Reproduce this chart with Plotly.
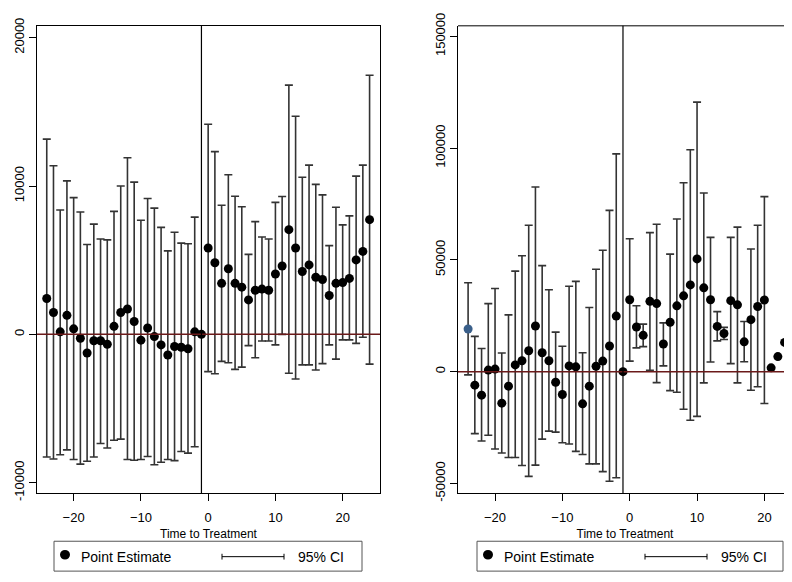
import plotly.graph_objects as go

# left panel
t_left = list(range(-24, 25))
est_left = [2420, 1470, 170, 1280, 370, -260, -1260, -430, -430, -670, 540, 1470, 1710, 870, -390, 430, -150, -710,
            -1390, -820, -870, -970, 170, 0,
            5820, 4830, 3440, 4420, 3440, 3180, 2320, 2970, 3050, 2970, 4070, 4610, 7060, 5820, 4240, 4680, 3850, 3700,
            2620, 3440, 3490, 3770, 5020, 5590, 7730]
hi_left = [13160, 11370, 8380, 10350, 9220, 8250, 6060, 7430, 6430, 6370, 8290, 10000, 11910, 10260, 7690, 9160, 8510,
           7210, 5630, 6880, 6150, 6110, 7900, None,
           14160, 12320, 8700, 10760, 9310, 8600, 5390, 7600, 6560, 6430, 8900, 9290, 16800, 14700, 10590, 11410, 10110,
           9400, 5980, 8570, 7380, 7990, 10670, 11410, 17470]
lo_left = [-8270, -8400, -8120, -7790, -8440, -8750, -8550, -8270, -7360, -7660, -7140, -7060, -8440, -8490, -8440, -8230,
           -8790, -8620, -8440, -8510, -7900, -8010, -7580, None,
           -2510, -2660, -1820, -1910, -2360, -2210, -760, -1580, -450, -450, -710, 0, -2620, -3010, -2060, -2060, -2400,
           -1970, -710, -1670, -370, -370, -610, -190, -2010]
ticks_left = [-10000, 0, 10000, 20000]

# right panel
t_right = list(range(-24, 25))
est_right = [19100, -6040, -10490, 720, 1150, -14080, -6470, 3020, 4890, 9340, 20410, 8480, 4890, -4740, -10200, 2590,
             2160, -14370, -6470, 2440, 4740, 11500, 24860, 0,
             32190, 19970, 16240, 31470, 30460, 12360, 22130, 29460, 33910, 38800, 50440, 37510, 32190, 20260, 17100,
             31760, 29890, 13360, 23280, 29170, 32050, 1720, 6750, 13080, 26440]
hi_right = [39800, 15800, 10350, 30460, 37200, 8330, 25430, 44980, 51880, 65530, 82630, 47420, 36640, 17670, 11350, 38220,
            40380, 8480, 28740, 45840, 54320, 72140, 97430, None,
            59490, 29460, 21270, 62220, 65960, 21840, 52590, 68260, 84500, 99300, 120560, 79900, 60070, 26870, 19830,
            60070, 64670, 22420, 54890, 65530, 78320, None, None, None, 56760]
lo_right = [-1440, -27700, -31000, -28450, -34600, -36360, -38370, -38370, -41960, -46850, -41820, -30180, -26580, -27020,
            -31760, -32330, -35640, -37070, -41240, -41240, -44690, -49000, -47420, None,
            4740, 10630, 11210, 570, -4890, 2590, -8480, -9200, -16810, -21700, -19970, -5030, 4310, 13800, 14370, 3590,
            -5030, 4450, -8330, -6750, -14230, None, None, None, -3880]
blue_right = [-24, 24]
ticks_right = [-50000, 0, 50000, 100000, 150000]
ticks_x = [-20, -10, 0, 10, 20]

FONT = "Liberation Sans, Arial, sans-serif"
W, H = 784, 574  # page body has an 8px margin


def px(v):
    return (v - 8) / W


def py(v):
    return 1 - (v - 8) / H


def ci_trace(t, est, hi, lo, xa, ya):
    xs, ys, up, dn = [], [], [], []
    for x, e, h, l in zip(t, est, hi, lo):
        if h is None:
            continue
        xs.append(x)
        ys.append(e)
        up.append(h - e)
        dn.append(e - l)
    return go.Scatter(x=xs, y=ys, mode="markers", marker=dict(size=0.1, color="rgba(0,0,0,0)"),
                      error_y=dict(type="data", array=up, arrayminus=dn, color="#333333", thickness=1.6, width=4),
                      xaxis=xa, yaxis=ya, showlegend=False, hoverinfo="skip", cliponaxis=False)


fig = go.Figure()
fig.add_trace(ci_trace(t_left, est_left, hi_left, lo_left, "x", "y"))
fig.add_trace(go.Scatter(x=t_left, y=est_left, mode="markers", marker=dict(size=9, color="black"),
                         xaxis="x", yaxis="y", showlegend=False))
fig.add_trace(ci_trace(t_right, est_right, hi_right, lo_right, "x2", "y2"))
cols = ["#3a5f8a" if t in blue_right else "black" for t in t_right]
fig.add_trace(go.Scatter(x=t_right, y=est_right, mode="markers", marker=dict(size=9, color=cols),
                         xaxis="x2", yaxis="y2", showlegend=False, cliponaxis=False))

ydom = [py(498), py(13)]
ax = dict(showgrid=False, zeroline=False, showline=True, linecolor="black", mirror=True, ticks="outside",
          ticklen=7, tickcolor="black", tickfont=dict(size=13, color="black"), ticklabeloverflow="allow")
xax = dict(ax, ticklabelstandoff=5, title=dict(text="Time to Treatment", font=dict(size=12), standoff=5))
fig.update_layout(
    width=W, height=H, margin=dict(l=0, r=0, t=0, b=0), plot_bgcolor="white", paper_bgcolor="white",
    font=dict(family=FONT, color="black"),
    xaxis=dict(xax, domain=[px(37), px(380)], range=[-25.45, 25.55], tickvals=ticks_x),
    yaxis=dict(ax, domain=ydom, range=[-10700, 20800], tickvals=ticks_left,
               ticktext=[str(v) for v in ticks_left], tickangle=-90),
    xaxis2=dict(xax, domain=[px(458), 1.0], range=[-25.5, 24.1], tickvals=ticks_x, mirror=False, anchor="y2"),
    yaxis2=dict(ax, domain=ydom, range=[-54300, 154700], tickvals=ticks_right,
                ticktext=[str(v) for v in ticks_right], tickangle=-90, anchor="x2", mirror=False),
)
fig.add_shape(type="line", xref="x2 domain", yref="y2 domain", x0=0, x1=1, y0=1, y1=1, line=dict(color="black", width=1))

for xa, ya in [("x", "y"), ("x2", "y2")]:
    fig.add_shape(type="line", xref=xa + " domain", yref=ya, x0=0, x1=1, y0=0, y1=0, line=dict(color="#6b1a1a", width=1.5))
    fig.add_shape(type="line", xref=xa, yref=ya + " domain", x0=-1, x1=-1, y0=0, y1=1, line=dict(color="black", width=1.2))

# legends drawn by hand
for x0, x1 in [(54, 362), (477, 783)]:
    ym = py(564)
    fig.add_shape(type="rect", xref="paper", yref="paper", x0=px(x0), x1=px(x1), y0=py(579), y1=py(548),
                  line=dict(color="#555555", width=1))
    fig.add_shape(type="circle", xref="paper", yref="paper", x0=px(x0 + 7), x1=px(x0 + 15),
                  y0=py(566), y1=py(558), fillcolor="black", line=dict(color="black"))
    fig.add_annotation(x=px(x0 + 25), y=ym, xref="paper", yref="paper", text="Point Estimate", showarrow=False,
                       xanchor="left", yanchor="middle", font=dict(size=14))
    fig.add_shape(type="line", xref="paper", yref="paper", x0=px(x0 + 168), x1=px(x0 + 230), y0=ym, y1=ym,
                  line=dict(color="black", width=1))
    for xx in (x0 + 168, x0 + 230):
        fig.add_shape(type="line", xref="paper", yref="paper", x0=px(xx), x1=px(xx), y0=py(567), y1=py(561),
                      line=dict(color="black", width=1))
    fig.add_annotation(x=px(x0 + 242), y=ym, xref="paper", yref="paper", text="95% CI", showarrow=False,
                       xanchor="left", yanchor="middle", font=dict(size=14))

fig.write_html("out.html")
